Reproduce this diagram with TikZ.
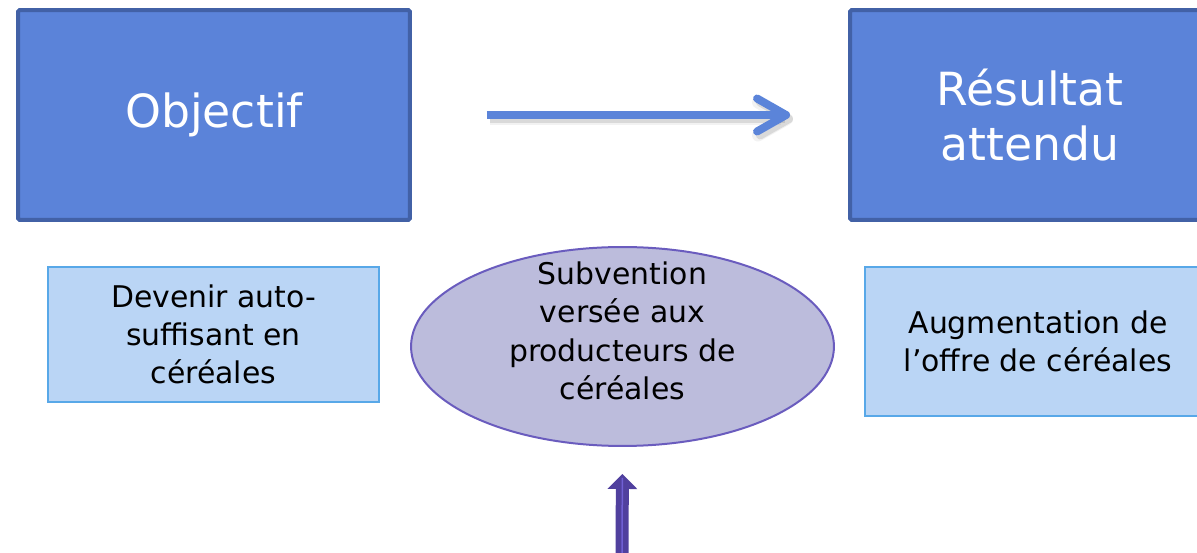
\documentclass[tikz,border=0pt]{standalone}
\usepackage{fontspec}
\setmainfont{DejaVu Sans}
\usepackage{xcolor}
\usepackage{tikz}
\usetikzlibrary{shapes.geometric,arrows.meta}

\definecolor{bigblue}{RGB}{91,131,217}
\definecolor{bigedge}{RGB}{66,97,166}
\definecolor{paleblue}{RGB}{186,213,245}
\definecolor{paleedge}{RGB}{88,168,232}
\definecolor{lilac}{RGB}{188,188,220}
\definecolor{lilacedge}{RGB}{106,92,190}
\definecolor{arrowblue}{RGB}{91,132,217}
\definecolor{uppurple}{RGB}{80,64,158}
\definecolor{uplight}{RGB}{112,96,212}

\begin{document}
\begin{tikzpicture}[x=0.02cm, y=-0.02cm,
	bigbox/.style={draw=bigedge, fill=bigblue, line width=0.08cm, rounded corners=1pt, minimum width=7.84cm, minimum height=4.2cm, text=white, align=center, font=\fontsize{26}{31.8}\selectfont},
	palebox/.style={draw=paleedge, fill=paleblue, line width=0.04cm, align=center, font=\fontsize{17}{21.8}\selectfont},
	bigarrow/.style={draw=arrowblue, line width=0.16cm, -{Straight Barb[length=0.58cm, width=0.66cm, round]}},
	uparrow/.style={draw=uppurple, line width=0.26cm, -{Triangle[width=0.58cm, length=0.3cm]}}]
							\clip (0,0) rectangle (1197,553);
							% top row
							\node[bigbox] (obj) at (214,115) {Objectif};
							\node[bigbox, minimum width=7.2cm] (res) at (1030,115) {Résultat\\attendu};
							% second row
							\node[palebox, minimum width=6.62cm, minimum height=2.7cm] (goal) at (213.5,334.5) {Devenir auto-\\suffisant en\\céréales};
							\node[palebox, minimum width=6.92cm, minimum height=2.98cm] (offer) at (1038,341.5) {Augmentation de\\l’offre de céréales};
							\node[ellipse, draw=lilacedge, fill=lilac, line width=0.04cm, inner sep=0pt, minimum width=8.46cm, minimum height=3.98cm] (ell) at (622.5,346.5) {};
							\node[align=center, font=\fontsize{17}{21.8}\selectfont] (subv) at (622.5,331) {Subvention\\versée aux\\producteurs de\\céréales};
							% arrows
							\draw[bigarrow, line width=0.24cm, draw=black, opacity=.05, shorten <=1.5cm, shorten >=1.16cm, transform canvas={shift={(0.06cm,-0.08cm)}}] (obj.east) -- (res.west);
							\draw[bigarrow, draw=black, opacity=.1, shorten <=1.5cm, shorten >=1.16cm, transform canvas={shift={(0.06cm,-0.08cm)}}] (obj.east) -- (res.west);
							\draw[bigarrow, shorten <=1.5cm, shorten >=1.16cm] (obj.east) -- (res.west);
							\coordinate (upbase) at (622,560);
							\draw[uparrow, shorten >=0.54cm] (upbase) -- (ell.south);
							\draw[uplight, line width=0.03cm, shorten >=0.62cm] (upbase) -- (ell.south);
						\end{tikzpicture}
\end{document}
